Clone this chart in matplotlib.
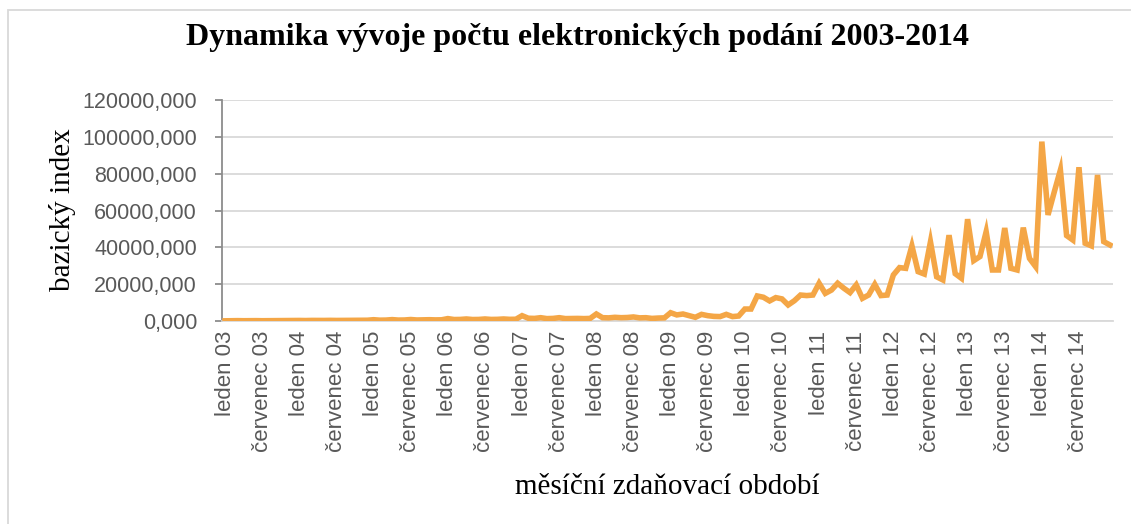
import matplotlib
matplotlib.use("Agg")
import matplotlib.pyplot as plt
from matplotlib.patches import Rectangle
from matplotlib.ticker import FuncFormatter

# bazicky index po mesicich (leden..prosinec)
idx_2003 = [100, 150, 200, 150, 180, 200, 150, 180, 220, 200, 220, 250]
idx_2004 = [300, 250, 320, 280, 300, 350, 300, 320, 380, 350, 380, 420]
idx_2005 = [700, 450, 500, 750, 500, 550, 800, 550, 600, 700, 600, 650]
idx_2006 = [1300, 800, 850, 1100, 800, 850, 1100, 850, 900, 1100, 900, 950]
idx_2007 = [2900, 1500, 1400, 1800, 1300, 1400, 1800, 1300, 1350, 1400, 1300, 1400]
idx_2008 = [3800, 1800, 1700, 2000, 1800, 1900, 2200, 1700, 1800, 1400, 1600, 1700]
idx_2009 = [4500, 3300, 3800, 2900, 2000, 3600, 2900, 2500, 2400, 3600, 2400, 2700]
idx_2010 = [6500, 6500, 13600, 12900, 10900, 12700, 12000, 8700, 11000, 14100, 13800, 14100]
idx_2011 = [20500, 15000, 16800, 20500, 17800, 15400, 19600, 12300, 14100, 19900, 13800, 14100]
idx_2012 = [25000, 29000, 28600, 40800, 26800, 25500, 43000, 24000, 22300, 46600, 25700, 23200]
idx_2013 = [55300, 32800, 35000, 48500, 27700, 27700, 50500, 28600, 27700, 50700, 34000, 29500]
idx_2014 = [97400, 57600, 70000, 82000, 46400, 44000, 83500, 42200, 40800, 79300, 43100, 41300]

roky = ["03", "04", "05", "06", "07", "08", "09", "10", "11", "12", "13", "14"]
mesice_popisky = ["leden", "červenec"]
y_ticks = [0, 20000, 40000, 60000, 80000, 100000, 120000]

hodnoty = (idx_2003 + idx_2004 + idx_2005 + idx_2006 + idx_2007 + idx_2008 +
           idx_2009 + idx_2010 + idx_2011 + idx_2012 + idx_2013 + idx_2014)
x = list(range(len(hodnoty)))

tick_pos = []
tick_lab = []
for i, r in enumerate(roky):
    for j, m in enumerate(mesice_popisky):
        tick_pos.append(i * 12 + j * 6)
        tick_lab.append(m + " " + r)

W, H = 1131, 524
fig = plt.figure(figsize=(W / 100, H / 100), dpi=100)
ax = fig.add_axes([222 / W, 1 - 321 / H, (1113 - 222) / W, (321 - 100) / H])

ax.plot(x, hodnoty, color="#F4A646", lw=4, solid_joinstyle="miter", zorder=3)

ax.set_xlim(-0.5, len(hodnoty) - 0.5)
ax.set_ylim(0, 120000)
ax.set_yticks(y_ticks)
ax.yaxis.set_major_formatter(FuncFormatter(lambda v, p: f"{v:.3f}".replace(".", ",")))
ax.set_xticks(tick_pos)
ax.set_xticklabels(tick_lab, rotation=90, va="top", ha="center")

ax.grid(axis="y", color="#D9D9D9", lw=1.3)
ax.set_axisbelow(True)
for s in ["top", "right"]:
    ax.spines[s].set_visible(False)
ax.spines["left"].set_color("#8C8C8C")
ax.spines["left"].set_linewidth(1.3)
ax.spines["bottom"].set_color("#D9D9D9")
ax.spines["bottom"].set_linewidth(1.3)
ax.tick_params(axis="y", length=5, width=1.3, color="#8C8C8C", pad=13,
               labelsize=15.5, labelcolor="#595959")
ax.tick_params(axis="x", length=0, pad=7, labelsize=16, labelcolor="#595959")
for t in ax.get_xticklabels() + ax.get_yticklabels():
    t.set_fontfamily("Liberation Sans")

fig.text(578 / W, 1 - 37 / H, "Dynamika vývoje počtu elektronických podání 2003-2014",
         ha="center", va="center", fontsize=23, fontweight="bold",
         family="Liberation Serif")
fig.text(667 / W, 1 - 487 / H, "měsíční zdaňovací období", ha="center", va="center",
         fontsize=21, family="Liberation Serif")
fig.text(62 / W, 1 - 210 / H, "bazický index", ha="center", va="center",
         rotation=90, fontsize=21, family="Liberation Serif")

# ramecek grafu (vidi se jen levy a horni okraj)
fig.patches.append(Rectangle((8 / W, -0.1), 1.2, 1.1 - 10 / H, transform=fig.transFigure,
                             fill=False, edgecolor="#D9D9D9", lw=1.3))

fig.savefig("out.png", dpi=100, facecolor="white")
